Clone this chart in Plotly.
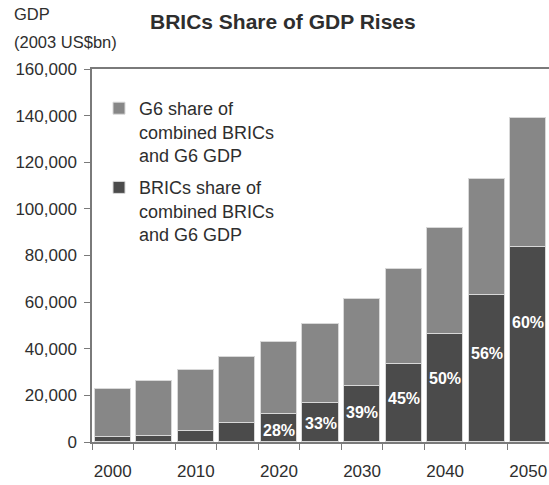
import plotly.graph_objects as go

years = [2000, 2005, 2010, 2015, 2020, 2025, 2030, 2035, 2040, 2045, 2050]
brics = [2.0, 2.7, 4.7, 8.0, 12.0, 16.8, 24.0, 33.6, 46.2, 63.2, 83.6]  # thousand US$bn
total = [22.7, 26.0, 30.9, 36.5, 42.9, 50.6, 61.2, 74.4, 91.8, 113.0, 139.1]
g6 = [round(t - b, 1) for t, b in zip(total, brics)]
pct_labels = ["", "", "", "", "28%", "33%", "39%", "45%", "50%", "56%", "60%"]
label_years = [2000, 2010, 2020, 2030, 2040, 2050]

FONT = "Liberation Sans, Arial, sans-serif"
TXT = "#2e2e2e"
W, H = 549, 485
ML, MT, MR = 92, 69, 0
MB = H - 442
PW = W - ML - MR
PH = H - MT - MB


def px(x):
    return (x - ML) / PW


def py(y):
    return 1 - (y - MT) / PH


fig = go.Figure()
fig.add_trace(go.Bar(
    x=years, y=[b * 1000 for b in brics],
    name="BRICs share of<br>combined BRICs<br>and G6 GDP", legendgroup="b", legendrank=2,
    marker=dict(color="#4b4b4b", line=dict(color="#d8d8d8", width=1)),
    width=4.35, hoverinfo="skip",
))
fig.add_trace(go.Bar(
    x=years, y=[g * 1000 for g in g6],
    name="G6 share of<br>combined BRICs<br>and G6 GDP", legendgroup="g", legendrank=1,
    marker=dict(color="#878787", line=dict(color="#d8d8d8", width=1)),
    width=4.35, hoverinfo="skip",
))
fig.add_trace(go.Scatter(x=label_years, y=[None] * len(label_years), xaxis="x2",
                         showlegend=False, hoverinfo="skip"))

for yr, b, lab in zip(years, brics, pct_labels):
    if lab:
        fig.add_annotation(x=yr, y=(0.65 * b - 3.0) * 1000, text="<b>" + lab + "</b>",
                           showarrow=False, font=dict(family=FONT, size=16, color="white"))

boundaries = [y - 2.5 for y in years] + [years[-1] + 2.5]

fig.update_layout(
    width=W, height=H,
    margin=dict(l=ML, r=MR, t=MT, b=MB),
    paper_bgcolor="white", plot_bgcolor="white",
    barmode="stack", bargap=0,
    font=dict(family=FONT, size=17, color=TXT),
    showlegend=True,
    legend=dict(
        x=px(99), y=py(90), xanchor="left", yanchor="top",
        traceorder="grouped", valign="top",
        font=dict(family=FONT, size=18, color=TXT),
        bgcolor="rgba(0,0,0,0)", tracegroupgap=6, itemwidth=30,
    ),
    xaxis=dict(
        range=[1997.5, 2052.5], tickmode="array", tickvals=boundaries,
        ticktext=[""] * len(boundaries), ticks="outside", ticklen=6,
        tickcolor="#7a7a7a", showline=True, linecolor="#7a7a7a", linewidth=1.5,
        mirror=True, showgrid=False, zeroline=False, fixedrange=True,
    ),
    xaxis2=dict(
        overlaying="x", side="bottom", range=[1997.5, 2052.5], tickmode="array",
        tickvals=label_years, ticktext=[str(y) for y in label_years],
        ticks="outside", ticklen=14, tickcolor="rgba(0,0,0,0)", showline=False,
        showgrid=False, zeroline=False, tickfont=dict(family=FONT, size=17, color=TXT),
    ),
    yaxis=dict(
        range=[0, 160000], dtick=20000, tickformat=",", ticks="outside", ticklen=6,
        tickcolor="#7a7a7a", showline=True, linecolor="#7a7a7a", linewidth=1.5,
        showgrid=False, zeroline=False, ticklabelstandoff=4,
        tickfont=dict(family=FONT, size=17, color=TXT),
    ),
)

fig.add_annotation(xref="paper", yref="paper", x=px(283), y=py(22), xanchor="center", yanchor="middle",
                   text="<b>BRICs Share of GDP Rises</b>",
                   showarrow=False, font=dict(family=FONT, size=21, color=TXT))
fig.add_annotation(xref="paper", yref="paper", x=px(12), y=py(3), xanchor="left", yanchor="top",
                   text="GDP", showarrow=False, font=dict(family=FONT, size=16.5, color=TXT))
fig.add_annotation(xref="paper", yref="paper", x=px(12), y=py(42), xanchor="left", yanchor="middle",
                   text="(2003 US$bn)", showarrow=False, font=dict(family=FONT, size=16.5, color=TXT))

fig.write_html(
    "out.html",
    config={"displayModeBar": False},
    post_script="document.body.style.margin='0';document.body.style.overflow='hidden';",
)
